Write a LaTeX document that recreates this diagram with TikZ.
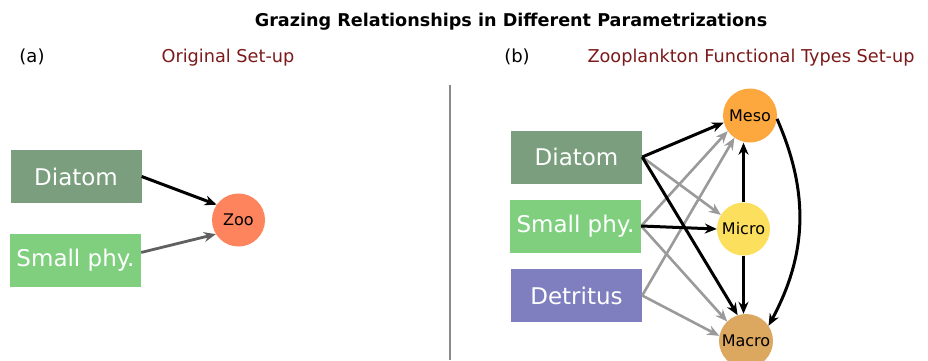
\documentclass[tikz,border=0pt]{standalone}
\usepackage{fontspec}
\setmainfont{DejaVu Sans}
\usetikzlibrary{arrows.meta}
\definecolor{cdia}{HTML}{7A9E7E}
\definecolor{csp}{HTML}{7FCF7F}
\definecolor{cdet}{HTML}{7F7FBF}
\definecolor{czoo}{HTML}{FD845C}
\definecolor{cmeso}{HTML}{FDA83E}
\definecolor{cmicro}{HTML}{FDDF5E}
\definecolor{cmacro}{HTML}{DCA75F}
\definecolor{ctitle}{HTML}{7B1A1A}
\definecolor{cgray}{HTML}{9A9A9A}
\definecolor{cdgray}{HTML}{606060}
\definecolor{cline}{HTML}{8A8A8A}
\begin{document}
\begin{tikzpicture}[x=1pt,y=-1pt,
  box/.style={rectangle, inner sep=0pt, minimum width=131pt, minimum height=53pt,
    text=white, font=\fontsize{23}{27}\selectfont},
  zc/.style={circle, inner sep=0pt, minimum size=54pt, text=black,
    font=\fontsize{16}{19}\selectfont},
  tip/.style={-{Stealth[length=12pt,width=10pt]}},
  blk/.style={tip, draw=black, line width=3pt},
  gry/.style={tip, draw=cgray, line width=2.6pt},
  dgry/.style={tip, draw=cdgray, line width=2.8pt},
  lbl/.style={font=\fontsize{18}{21}\selectfont},
  sub/.style={text=ctitle, font=\fontsize{17.7}{21}\selectfont},
]
\useasboundingbox (0,0) rectangle (928,360);

% titles
\node (title) at (511,22) {\fontsize{17.6}{21}\selectfont\bfseries Grazing Relationships in Different Parametrizations};
\node[lbl] (la) at (32,57) {(a)};
\node[sub] (sa) at (228,58) {Original Set-up};
\node[lbl] (lb) at (517,57) {(b)};
\node[sub] (sb) at (751,58) {Zooplankton Functional Types Set-up};

% separator
\draw[cline, line width=1.3pt] (450,85) -- (450,360);

% panel (a)
\node[box, fill=cdia] (dL) at (76,176.5) {Diatom};
\node[box, fill=csp] (sL) at (75.5,260.5) {Small phy.};
\node[zc, fill=czoo, minimum size=53pt] (zoo) at (238.5,220) {Zoo};
\draw[blk] (dL.east) -- (zoo.145);
\draw[dgry] (sL.7) -- (zoo.212);

% panel (b)
\node[box, fill=cdia] (dR) at (576.5,157) {Diatom};
\node[box, fill=csp] (sR) at (575.5,226) {Small phy.};
\node[box, fill=cdet] (det) at (576.5,295.5) {Detritus};
\node[zc, fill=cmeso] (meso) at (750,115.5) {Meso};
\node[zc, fill=cmicro, minimum size=53pt] (micro) at (743.5,229) {Micro};
\node[zc, fill=cmacro] (macro) at (746,341) {Macro};

\draw[gry] (dR.east) -- (micro.148);
\draw[gry] (sR.east) -- (meso.215);
\draw[gry] (sR.east) -- (macro.134);
\draw[gry] (det.east) -- (meso.235);
\draw[gry] (det.east) -- (macro.169);
\draw[blk] (dR.east) -- (meso.195);
\draw[blk] (dR.east) -- (macro.108);
\draw[blk] (sR.east) -- (micro.180);
\draw[blk] (micro.north) -- (micro.north |- meso.south);
\draw[blk] (micro.south) -- (micro.south |- macro.north);
\draw[blk] (meso.-7) to[bend left=26] (macro.34);
\end{tikzpicture}
\end{document}
